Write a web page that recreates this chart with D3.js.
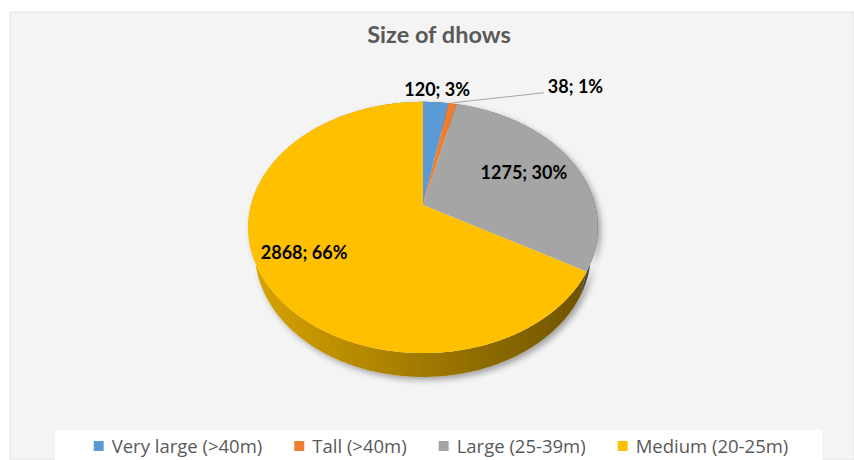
<!DOCTYPE html>
<html>
<head>
<meta charset="utf-8">
<script src="https://cdn.jsdelivr.net/npm/d3@7"></script>
<style>
  body { margin: 0; background: #ffffff; }
  text { font-family: Lato, "Open Sans", sans-serif; }
  .legend text { font-family: "Open Sans", sans-serif; }
</style>
</head>
<body>
<script>
var width = 854,
    height = 460;

// data
var categories = ["Very large (>40m)", "Tall (>40m)", "Large (25-39m)", "Medium (20-25m)"];
var values = [120, 38, 1275, 2868];
var percents = [3, 1, 30, 66];
var colors = ["#5b9bd5", "#ed7d31", "#a5a5a5", "#ffc000"];
var title = "Size of dhows";

var slices = categories.map(function(c, i) {
  return { name: c, value: values[i], pct: percents[i], color: colors[i] };
});

// 3d view of the disc
var cx = 423, cy = 205, R = 172, H = 37, D = 680,
    tilt = 45 * Math.PI / 180;

function proj(theta, h, r) {
  if (r === undefined) r = R;
  var x = r * Math.sin(theta),
      z = -r * Math.cos(theta),
      yd = z * Math.sin(tilt) - h * Math.cos(tilt),
      w = z * Math.cos(tilt) + h * Math.sin(tilt),
      f = D / (D - w);
  return [cx + x * f, cy + yd * f];
}

function arcPoints(a0, a1, h) {
  var n = Math.max(2, Math.ceil((a1 - a0) / 0.01)), pts = [];
  for (var i = 0; i <= n; i++) pts.push(proj(a0 + (a1 - a0) * i / n, h));
  return pts;
}

var pie = d3.pie().sort(null).value(function(d) { return d.value; });
var arcs = pie(slices);

var svg = d3.select("body").append("svg")
    .attr("width", width)
    .attr("height", height);

var defs = svg.append("defs");

var shadow = defs.append("filter").attr("id", "shadow")
    .attr("x", "-20%").attr("y", "-20%").attr("width", "140%").attr("height", "140%");
shadow.append("feGaussianBlur").attr("in", "SourceAlpha").attr("stdDeviation", 3);
shadow.append("feOffset").attr("dx", 3).attr("dy", 3).attr("result", "b");
shadow.append("feComponentTransfer").append("feFuncA").attr("type", "linear").attr("slope", 0.35);
var merge = shadow.append("feMerge");
merge.append("feMergeNode");
merge.append("feMergeNode").attr("in", "SourceGraphic");

arcs.forEach(function(d, i) {
  var g = defs.append("linearGradient").attr("id", "side" + i)
      .attr("gradientUnits", "userSpaceOnUse")
      .attr("x1", cx - R).attr("x2", cx + R).attr("y1", 0).attr("y2", 0);
  g.append("stop").attr("offset", "0%").attr("stop-color", d3.color(d.data.color).darker(0.45));
  g.append("stop").attr("offset", "55%").attr("stop-color", d3.color(d.data.color).darker(1.4));
  g.append("stop").attr("offset", "100%").attr("stop-color", d3.color(d.data.color).darker(2.4));
});

// chart area and legend box
svg.append("rect")
    .attr("x", 10).attr("y", 12)
    .attr("width", width - 10).attr("height", height - 12)
    .attr("fill", "#f4f4f4")
    .attr("stroke", "#e4e4e4");

svg.append("rect")
    .attr("x", 55).attr("y", 430)
    .attr("width", 767).attr("height", 40)
    .attr("fill", "#ffffff");

svg.append("text")
    .attr("x", 439).attr("y", 43)
    .attr("text-anchor", "middle")
    .attr("font-size", 23.5)
    .attr("font-weight", "bold")
    .attr("fill", "#595959")
    .text(title);

var line = d3.line();

// outer walls, drawn back to front, then the tops
var walls = svg.append("g").attr("filter", "url(#shadow)");
walls.selectAll("path")
    .data(arcs)
  .enter().append("path")
    .attr("d", function(d) {
      var top = arcPoints(d.startAngle, d.endAngle, 0),
          bot = arcPoints(d.startAngle, d.endAngle, -H).reverse();
      return line(top.concat(bot)) + "Z";
    })
    .attr("fill", function(d, i) { return "url(#side" + i + ")"; });

svg.append("g").selectAll("path")
    .data(arcs)
  .enter().append("path")
    .attr("d", function(d) {
      return line([[cx, cy]].concat(arcPoints(d.startAngle, d.endAngle, 0))) + "Z";
    })
    .attr("fill", function(d) { return d.data.color; });

// data labels
function mid(d) { return (d.startAngle + d.endAngle) / 2; }

var labels = svg.append("g")
    .attr("font-size", 18)
    .attr("font-weight", "bold")
    .attr("fill", "#000000");

arcs.forEach(function(d, i) {
  var txt = d.data.value + "; " + d.data.pct + "%", p;
  if (i === 0) {
    p = proj(mid(d), 0, R * 1.13);
    labels.append("text").attr("x", p[0]).attr("y", p[1] + 5).attr("text-anchor", "middle").text(txt);
  } else if (i === 1) {
    var s = proj(mid(d), 0, R * 1.01),
        e = [s[0] + 91, s[1] - 10];
    svg.append("line")
        .attr("x1", s[0]).attr("y1", s[1])
        .attr("x2", e[0]).attr("y2", e[1])
        .attr("stroke", "#a6a6a6").attr("stroke-width", 1);
    labels.append("text").attr("x", e[0] + 4).attr("y", e[1]).attr("text-anchor", "start").text(txt);
  } else {
    p = proj(mid(d), 0, R * (i === 2 ? 0.67 : 0.745));
    labels.append("text").attr("x", p[0]).attr("y", p[1]).attr("dy", "0.3em")
        .attr("text-anchor", "middle").text(txt);
  }
});

// legend
var legend = svg.append("g")
    .attr("class", "legend")
    .attr("font-size", 18.5)
    .attr("fill", "#595959");

var items = legend.selectAll("g")
    .data(slices)
  .enter().append("g");

items.append("rect")
    .attr("width", 10).attr("height", 10)
    .attr("y", 441)
    .attr("fill", function(d) { return d.color; });

items.append("text")
    .attr("x", 18).attr("y", 452.5)
    .text(function(d) { return d.name; });

var xpos = 0;
items.each(function() {
  var g = d3.select(this), w = g.select("text").node().getComputedTextLength();
  g.attr("transform", "translate(" + xpos + ",0)");
  xpos += 18 + w + 32;
});
var total = xpos - 32, x0 = 441 - total / 2;
items.attr("transform", function() {
  var t = d3.select(this).attr("transform").match(/translate\(([-\d.]+)/);
  return "translate(" + (x0 + (+t[1])) + ",0)";
});
</script>
</body>
</html>
